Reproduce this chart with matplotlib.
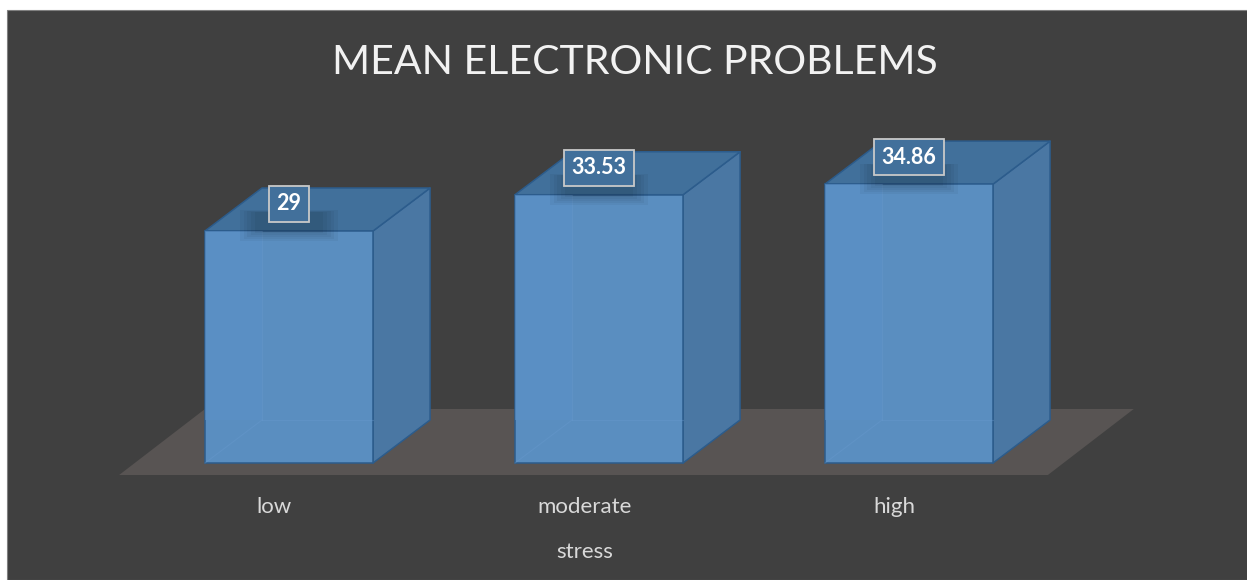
import matplotlib
matplotlib.use("Agg")
import matplotlib.pyplot as plt
from matplotlib.patches import Rectangle, Polygon

# ------------------
# Data
# ------------------
categories = ["low", "moderate", "high"]
values = [29, 33.53, 34.86]
value_labels = ["29", "33.53", "34.86"]
title = "MEAN ELECTRONIC PROBLEMS"
x_title = "stress"

# ------------------
# Style / layout
# ------------------
W, H = 1247, 580
BG = "#404040"
FLOOR = "#585453"
FRONT = "#5a8ec0"
FRONT_BACK = "#5b90c7"
TOP = "#41709b"
SIDE = "#4a77a3"
EDGE = "#2c5c8c"
TEXT = "#d9d9d9"

BAR_W = 0.542        # in category units
DX, DY = 0.184, 5.375  # 3d depth offset (category units, value units)
FLOOR_DX, FLOOR_DY = 0.277, 8.25

plt.rcParams["font.family"] = ["Lato", "DejaVu Sans"]

fig = plt.figure(figsize=(W / 100, H / 100), dpi=100, facecolor="white")
fig.add_artist(Rectangle((7 / W, 0), 1, 570 / H, transform=fig.transFigure,
                         facecolor=BG, edgecolor="#808080", lw=0.8, zorder=-5))

ax = fig.add_axes([0, 0, 1, 1])
ax.set_facecolor("none")
# pixel -> data mapping: x = (px - 289) / 310, y = (463 - py) / 8
ax.set_xlim((0 - 289) / 310, (W - 289) / 310)
ax.set_ylim((463 - H) / 8, 463 / 8)
ax.axis("off")

n = len(categories)

# floor
fl_left, fl_right = -0.548, (n - 1) + 0.448
fy = -1.5
ax.add_patch(Polygon([(fl_left, fy), (fl_right, fy),
                      (fl_right + FLOOR_DX, fy + FLOOR_DY),
                      (fl_left + FLOOR_DX, fy + FLOOR_DY)],
                     closed=True, facecolor=FLOOR, edgecolor="none", zorder=1))

for i, v in enumerate(values):
    x0 = i - BAR_W / 2
    x1 = i + BAR_W / 2
    # right side
    ax.add_patch(Polygon([(x1, 0), (x1 + DX, DY), (x1 + DX, v + DY), (x1, v)],
                         closed=True, facecolor=SIDE, edgecolor=EDGE, lw=1.1,
                         joinstyle="round", zorder=2))
    # top
    ax.add_patch(Polygon([(x0, v), (x1, v), (x1 + DX, v + DY), (x0 + DX, v + DY)],
                         closed=True, facecolor=TOP, edgecolor=EDGE, lw=1.1,
                         joinstyle="round", zorder=2))
    # front
    ax.add_patch(Rectangle((x0, 0), BAR_W, v, facecolor=FRONT, edgecolor=EDGE,
                           lw=1.1, zorder=3))
    # see-through hints of the back of the box
    ax.add_patch(Rectangle((x0, DY), DX, v - DY, facecolor=FRONT_BACK,
                           edgecolor="none", alpha=0.6, zorder=3.1))
    ax.plot([x0 + DX, x0 + DX], [DY, v], color="#6a9bd0", lw=0.8, alpha=0.35, zorder=3.2)
    ax.plot([x0 + DX, x1], [DY, DY], color="#6a9bd0", lw=0.8, alpha=0.35, zorder=3.2)
    ax.plot([x0, x0 + DX], [0, DY], color="#6a9bd0", lw=0.8, alpha=0.35, zorder=3.2)

    # value label with soft shadow
    ly = v + 3.375
    for k in range(5):
        ax.add_patch(Rectangle((i - 0.11 - k * 0.012, ly - 3.6 - k * 0.25),
                               0.22 + k * 0.024, 2.6 + k * 0.3, facecolor="black",
                               edgecolor="none", alpha=0.04, zorder=3.5))
    ax.text(i, ly, value_labels[i], ha="center", va="center", color="white",
            fontsize=15.5, fontweight="bold", zorder=5,
            bbox=dict(boxstyle="square,pad=0.36", facecolor="#42709b",
                      edgecolor="#c9c9c9", lw=1.3))

    ax.text(i - 0.048, -5.5, categories[i], ha="center", va="center",
            color=TEXT, fontsize=16, zorder=5)

ax.text(1 - 0.045, -11.125, x_title, ha="center", va="center",
        color=TEXT, fontsize=16, zorder=5)

fig.text(635 / W, 1 - 62 / H, title, ha="center", va="center",
         color="#f2f2f2", fontsize=29.5)

fig.savefig("out.png", dpi=100, facecolor=fig.get_facecolor())
